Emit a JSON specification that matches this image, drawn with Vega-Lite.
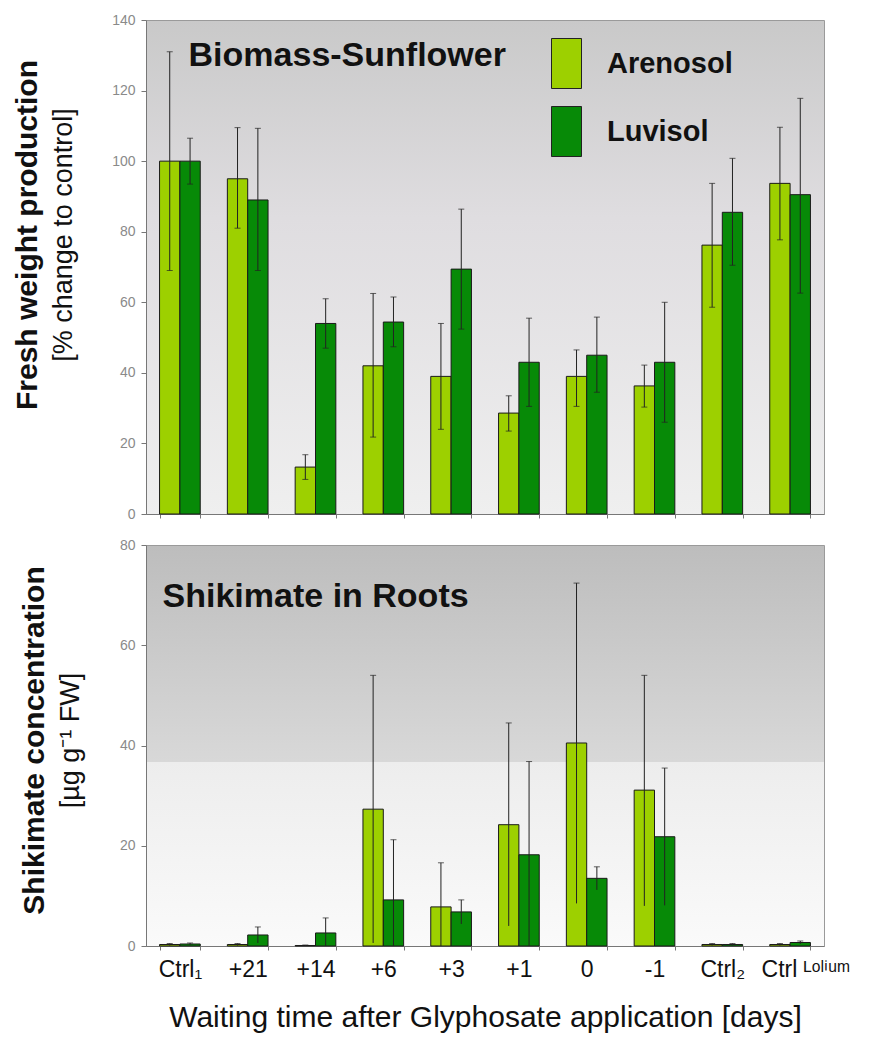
{
  "$schema": "https://vega.github.io/schema/vega-lite/v6.json",
  "padding": {"left": 12, "top": 12, "right": 5, "bottom": 0},
  "background": "white",
  "config": {
    "font": "Liberation Sans",
    "view": {"stroke": "#9a9a9a", "strokeWidth": 1},
    "axis": {"labelFont": "Liberation Sans", "titleFont": "Liberation Sans", "domainColor": "#777", "tickColor": "#777", "grid": false},
    "concat": {"spacing": 15}
  },
  "datasets": {
    "bio": [
      {"group": "Ctrl₁", "soil": "Arenosol", "value": 100, "lo": 69, "hi": 131},
      {"group": "Ctrl₁", "soil": "Luvisol", "value": 100, "lo": 93.5, "hi": 106.5},
      {"group": "+21", "soil": "Arenosol", "value": 95, "lo": 81, "hi": 109.5},
      {"group": "+21", "soil": "Luvisol", "value": 89, "lo": 69, "hi": 109.3},
      {"group": "+14", "soil": "Arenosol", "value": 13.3, "lo": 9.8, "hi": 16.8},
      {"group": "+14", "soil": "Luvisol", "value": 54, "lo": 47, "hi": 61},
      {"group": "+6", "soil": "Arenosol", "value": 42, "lo": 21.8, "hi": 62.5},
      {"group": "+6", "soil": "Luvisol", "value": 54.4, "lo": 47.4, "hi": 61.5},
      {"group": "+3", "soil": "Arenosol", "value": 39, "lo": 24, "hi": 54},
      {"group": "+3", "soil": "Luvisol", "value": 69.4, "lo": 52.4, "hi": 86.4},
      {"group": "+1", "soil": "Arenosol", "value": 28.6, "lo": 23.5, "hi": 33.5},
      {"group": "+1", "soil": "Luvisol", "value": 43, "lo": 30.5, "hi": 55.5},
      {"group": "0", "soil": "Arenosol", "value": 39, "lo": 30.5, "hi": 46.5},
      {"group": "0", "soil": "Luvisol", "value": 45, "lo": 34.5, "hi": 55.8},
      {"group": "-1", "soil": "Arenosol", "value": 36.3, "lo": 30.3, "hi": 42.2},
      {"group": "-1", "soil": "Luvisol", "value": 43, "lo": 26, "hi": 60},
      {"group": "Ctrl₂", "soil": "Arenosol", "value": 76.2, "lo": 58.6, "hi": 93.7},
      {"group": "Ctrl₂", "soil": "Luvisol", "value": 85.5, "lo": 70.5, "hi": 100.8},
      {"group": "Ctrl ᴸᵒˡⁱᵘᵐ", "soil": "Arenosol", "value": 93.7, "lo": 77.7, "hi": 109.6},
      {"group": "Ctrl ᴸᵒˡⁱᵘᵐ", "soil": "Luvisol", "value": 90.5, "lo": 62.6, "hi": 117.8}
    ],
    "shik": [
      {"group": "Ctrl₁", "soil": "Arenosol", "value": 0.3, "lo": 0.1, "hi": 0.5},
      {"group": "Ctrl₁", "soil": "Luvisol", "value": 0.4, "lo": 0.2, "hi": 0.6},
      {"group": "+21", "soil": "Arenosol", "value": 0.3, "lo": 0.1, "hi": 0.5},
      {"group": "+21", "soil": "Luvisol", "value": 2.2, "lo": 0.6, "hi": 3.8},
      {"group": "+14", "soil": "Arenosol", "value": 0.1, "lo": 0, "hi": 0.2},
      {"group": "+14", "soil": "Luvisol", "value": 2.6, "lo": 0, "hi": 5.6},
      {"group": "+6", "soil": "Arenosol", "value": 27.3, "lo": 0.6, "hi": 54},
      {"group": "+6", "soil": "Luvisol", "value": 9.2, "lo": 0, "hi": 21.2},
      {"group": "+3", "soil": "Arenosol", "value": 7.8, "lo": 0, "hi": 16.6},
      {"group": "+3", "soil": "Luvisol", "value": 6.8, "lo": 4.4, "hi": 9.2},
      {"group": "+1", "soil": "Arenosol", "value": 24.2, "lo": 4, "hi": 44.5},
      {"group": "+1", "soil": "Luvisol", "value": 18.2, "lo": 0, "hi": 36.8},
      {"group": "0", "soil": "Arenosol", "value": 40.5, "lo": 8.5, "hi": 72.4},
      {"group": "0", "soil": "Luvisol", "value": 13.5, "lo": 11.2, "hi": 15.8},
      {"group": "-1", "soil": "Arenosol", "value": 31.1, "lo": 8, "hi": 54},
      {"group": "-1", "soil": "Luvisol", "value": 21.8, "lo": 8.1, "hi": 35.5},
      {"group": "Ctrl₂", "soil": "Arenosol", "value": 0.3, "lo": 0.1, "hi": 0.5},
      {"group": "Ctrl₂", "soil": "Luvisol", "value": 0.3, "lo": 0.1, "hi": 0.5},
      {"group": "Ctrl ᴸᵒˡⁱᵘᵐ", "soil": "Arenosol", "value": 0.3, "lo": 0.1, "hi": 0.5},
      {"group": "Ctrl ᴸᵒˡⁱᵘᵐ", "soil": "Luvisol", "value": 0.7, "lo": 0.4, "hi": 1.0}
    ],
    "t1": [{"label": "Biomass-Sunflower"}],
    "t2": [{"label": "Shikimate in Roots"}]
  },
  "resolve": {"scale": {"color": "independent", "x": "independent", "y": "independent"}, "legend": {"color": "independent"}},
  "vconcat": [
    {
      "width": 678,
      "height": 494,
      "view": {"stroke": "#9a9a9a", "fill": {"gradient": "linear", "x1": 0, "y1": 0, "x2": 0, "y2": 1, "stops": [{"offset": 0, "color": "#c9c9c9"}, {"offset": 0.4, "color": "#dfdde0"}, {"offset": 1, "color": "#efefef"}]}},
      "title": {"text": "Fresh weight production", "subtitle": "[% change to control]", "orient": "left", "anchor": "middle", "font": "Liberation Sans", "fontSize": 30, "fontWeight": "bold", "color": "#111", "subtitleFont": "Liberation Sans", "subtitleFontSize": 27, "subtitleColor": "#111", "subtitlePadding": 8, "offset": 35, "dx": 32},
      "encoding": {
        "x": {"field": "group", "type": "nominal", "sort": ["Ctrl₁", "+21", "+14", "+6", "+3", "+1", "0", "-1", "Ctrl₂", "Ctrl ᴸᵒˡⁱᵘᵐ"], "scale": {"paddingInner": 0.4, "paddingOuter": 0.2}, "axis": {"labels": false, "title": null, "tickBand": "extent", "tickSize": 4}}
      },
      "layer": [
        {
          "data": {"name": "bio"},
          "mark": {"type": "bar", "stroke": "#1a1a1a", "strokeWidth": 1},
          "encoding": {
            "xOffset": {"field": "soil", "type": "nominal", "scale": {"paddingInner": 0}},
            "y": {"field": "value", "type": "quantitative", "scale": {"domain": [0, 140], "nice": false}, "axis": {"title": null, "values": [0, 20, 40, 60, 80, 100, 120, 140], "labelFontSize": 14, "labelColor": "#8a8a8a", "tickSize": 5, "labelPadding": 6}},
            "color": {"field": "soil", "type": "nominal", "scale": {"domain": ["Arenosol", "Luvisol"], "range": ["#9dd000", "#078a07"]}, "legend": {"orient": "none", "legendX": 395, "legendY": 18, "title": null, "symbolType": "M-0.6,-1H0.6V1H-0.6Z", "symbolSize": 2500, "symbolStrokeColor": "#222", "symbolStrokeWidth": 1, "labelFont": "Liberation Sans", "labelFontSize": 29, "labelFontWeight": "bold", "labelColor": "#111", "labelOffset": 15, "rowPadding": 13, "labelLimit": 300}}
          }
        },
        {
          "data": {"name": "bio"},
          "mark": {"type": "rule", "color": "#222", "strokeWidth": 1},
          "encoding": {
            "xOffset": {"field": "soil", "type": "nominal", "scale": {"paddingInner": 0}},
            "y": {"field": "lo", "type": "quantitative"},
            "y2": {"field": "hi"}
          }
        },
        {
          "data": {"name": "bio"},
          "mark": {"type": "tick", "color": "#222", "thickness": 1, "size": 6},
          "encoding": {
            "xOffset": {"field": "soil", "type": "nominal", "scale": {"paddingInner": 0}},
            "y": {"field": "hi", "type": "quantitative"}
          }
        },
        {
          "data": {"name": "bio"},
          "mark": {"type": "tick", "color": "#222", "thickness": 1, "size": 6},
          "encoding": {
            "xOffset": {"field": "soil", "type": "nominal", "scale": {"paddingInner": 0}},
            "y": {"field": "lo", "type": "quantitative"}
          }
        },
        {
          "data": {"name": "t1"},
          "mark": {"type": "text", "align": "left", "baseline": "middle", "font": "Liberation Sans", "fontSize": 34, "fontWeight": "bold", "color": "#111", "dx": 29},
          "encoding": {
            "x": {"datum": "Ctrl₁", "bandPosition": 0},
            "y": {"datum": 129.7},
            "text": {"field": "label"}
          }
        }
      ]
    },
    {
      "width": 678,
      "height": 401,
      "view": {"stroke": "#9a9a9a", "fill": {"gradient": "linear", "x1": 0, "y1": 0, "x2": 0, "y2": 1, "stops": [{"offset": 0, "color": "#bdbdbd"}, {"offset": 0.54, "color": "#d8d8d8"}, {"offset": 0.541, "color": "#ededed"}, {"offset": 1, "color": "#fafafa"}]}},
      "title": {"text": "Shikimate concentration", "subtitle": "[µg g⁻¹ FW]", "orient": "left", "anchor": "middle", "font": "Liberation Sans", "fontSize": 30, "fontWeight": "bold", "color": "#111", "subtitleFont": "Liberation Sans", "subtitleFontSize": 27, "subtitleColor": "#111", "subtitlePadding": 8, "offset": 35, "dx": 5},
      "encoding": {
        "x": {"field": "group", "type": "nominal", "sort": ["Ctrl₁", "+21", "+14", "+6", "+3", "+1", "0", "-1", "Ctrl₂", "Ctrl ᴸᵒˡⁱᵘᵐ"], "scale": {"paddingInner": 0.4, "paddingOuter": 0.2}, "axis": {"title": "Waiting time after Glyphosate application [days]", "labelAngle": 0, "labelFontSize": 23, "labelColor": "#111", "labelPadding": 8, "labelLimit": 200, "labelAlign": {"condition": {"test": "datum.value === 'Ctrl ᴸᵒˡⁱᵘᵐ'", "value": "left"}, "value": "center"}, "labelOffset": {"condition": {"test": "datum.value === 'Ctrl ᴸᵒˡⁱᵘᵐ'", "value": -29}, "value": 0}, "tickBand": "extent", "tickSize": 4, "titleFontSize": 30, "titleFontWeight": "normal", "titleColor": "#111", "titlePadding": 21}}
      },
      "layer": [
        {
          "data": {"name": "shik"},
          "mark": {"type": "bar", "stroke": "#1a1a1a", "strokeWidth": 1},
          "encoding": {
            "xOffset": {"field": "soil", "type": "nominal", "scale": {"paddingInner": 0}},
            "y": {"field": "value", "type": "quantitative", "scale": {"domain": [0, 80], "nice": false}, "axis": {"title": null, "values": [0, 20, 40, 60, 80], "labelFontSize": 14, "labelColor": "#8a8a8a", "tickSize": 5, "labelPadding": 6}},
            "color": {"field": "soil", "type": "nominal", "scale": {"domain": ["Arenosol", "Luvisol"], "range": ["#9dd000", "#078a07"]}, "legend": null}
          }
        },
        {
          "data": {"name": "shik"},
          "mark": {"type": "rule", "color": "#222", "strokeWidth": 1},
          "encoding": {
            "xOffset": {"field": "soil", "type": "nominal", "scale": {"paddingInner": 0}},
            "y": {"field": "lo", "type": "quantitative"},
            "y2": {"field": "hi"}
          }
        },
        {
          "data": {"name": "shik"},
          "mark": {"type": "tick", "color": "#222", "thickness": 1, "size": 6},
          "encoding": {
            "xOffset": {"field": "soil", "type": "nominal", "scale": {"paddingInner": 0}},
            "y": {"field": "hi", "type": "quantitative"}
          }
        },
        {
          "data": {"name": "t2"},
          "mark": {"type": "text", "align": "left", "baseline": "middle", "font": "Liberation Sans", "fontSize": 34, "fontWeight": "bold", "color": "#111", "dx": 3},
          "encoding": {
            "x": {"datum": "Ctrl₁", "bandPosition": 0},
            "y": {"datum": 69.7},
            "text": {"field": "label"}
          }
        }
      ]
    }
  ]
}
